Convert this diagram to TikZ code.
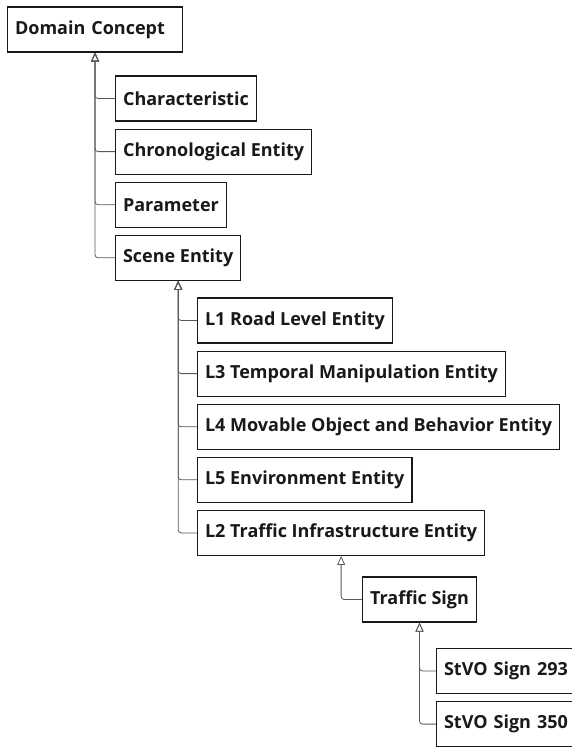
\documentclass[tikz,border=0pt]{standalone}
\usepackage{fontspec}
\setmainfont{Open Sans}
\usetikzlibrary{arrows.meta, positioning}

\begin{document}
\begin{tikzpicture}[
    x=1pt, y=-1pt,
    node distance=7pt,
    cls/.style={rectangle, draw=black!90, line width=1.1pt, fill=white, minimum height=45pt,
        inner xsep=7.5pt, font=\fontsize{18}{21}\selectfont\bfseries, text=black!90, anchor=west},
    inherit/.style={draw=black!65, line width=0.8pt, rounded corners=3pt,
        -{Triangle[open, length=9pt, width=8pt, line width=0.8pt]}}
]
\useasboundingbox (0,0) rectangle (571,752);

% Top level
\node (domain) [cls, text width=160pt, align=left] at (7,29.5) {Domain Concept};

% Domain concept children
\node (charact) [cls] at (115,98.5) {Characteristic};
\node (chrono) [cls, below=of charact.south west, anchor=north west] {Chronological Entity};
\node (param) [cls, below=of chrono.south west, anchor=north west] {Parameter};
\node (scene) [cls, below=of param.south west, anchor=north west] {Scene Entity};

% Scene entity children
\node (road) [cls] at (197,320.5) {L1 Road Level Entity};
\node (temporal) [cls, below=of road.south west, anchor=north west] {L3 Temporal Manipulation Entity};
\node (movable) [cls, below=of temporal.south west, anchor=north west] {L4 Movable Object and Behavior Entity};
\node (environ) [cls, below=of movable.south west, anchor=north west] {L5 Environment Entity};
\node (infra) [cls, below=of environ.south west, anchor=north west] {L2 Traffic Infrastructure Entity};

% Signs (cut by the right edge)
\node (sign) [cls] at (362,599.5) {Traffic Sign};
\node (sign293) [cls, text width=130pt, align=left] at (436,671) {StVO Sign 293};
\node (sign350) [cls, text width=130pt, align=left, below=of sign293.south west, anchor=north west] {StVO Sign 350};

% Generalizations
\foreach \child in {charact, chrono, param, scene}
    \draw [inherit] (\child.west) -| (domain.south);
\foreach \child in {road, temporal, movable, environ, infra}
    \draw [inherit] (\child.west) -| (scene.south);
\draw [inherit] (sign.west) -| (infra.south);
\foreach \child in {sign293, sign350}
    \draw [inherit] (\child.west) -| (sign.south);

\end{tikzpicture}
\end{document}
